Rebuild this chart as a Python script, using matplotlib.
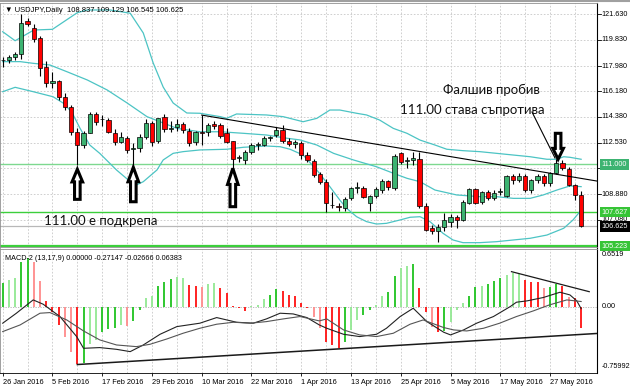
import matplotlib
matplotlib.use('Agg')
import matplotlib.pyplot as plt
import matplotlib.transforms as mtransforms
from matplotlib.patches import Polygon

plt.rcParams['font.family'] = ['Liberation Sans', 'DejaVu Sans']

# ---- data ----
date_labels = ['26 Jan 2016', '5 Feb 2016', '17 Feb 2016', '29 Feb 2016', '10 Mar 2016',
               '22 Mar 2016', '1 Apr 2016', '13 Apr 2016', '25 Apr 2016', '5 May 2016',
               '17 May 2016', '27 May 2016']

opens = [118.38, 118.42, 118.62, 118.80, 121.15, 120.65, 119.95, 117.90, 116.80, 116.90,
         115.80, 115.10, 113.30, 112.35, 113.25, 114.55, 114.20, 114.15, 113.25, 112.62,
         112.90, 112.10, 112.15, 112.97, 113.96, 112.66, 114.35, 113.55, 113.65, 113.90,
         113.40, 112.60, 113.30, 113.30, 113.90, 113.80, 113.21, 112.68, 111.46, 111.30,
         111.90, 112.40, 112.40, 112.85, 113.10, 113.45, 112.68, 112.45, 112.55, 111.67,
         111.27, 110.30, 109.78, 108.10, 108.05, 107.90, 108.60, 109.30, 109.30, 108.25,
         108.77, 109.19, 109.83, 109.30, 111.80, 111.25, 111.30, 111.37, 108.06, 106.48,
         106.30, 106.60, 106.95, 107.30, 107.10, 108.30, 109.24, 108.36, 109.07, 108.60,
         109.05, 108.80, 110.15, 109.90, 110.19, 109.19, 109.90, 110.20, 109.67, 110.38,
         111.13, 110.66, 109.55, 108.837]
highs = [118.60, 118.75, 119.00, 121.69, 121.40, 120.95, 120.10, 118.30, 117.55, 117.00,
         116.05, 115.20, 113.60, 113.35, 114.75, 114.75, 114.50, 114.30, 113.50, 113.30,
         113.05, 112.50, 113.15, 114.20, 114.10, 114.30, 114.60, 114.05, 114.20, 114.00,
         113.60, 113.40, 114.50, 113.95, 114.10, 113.95, 113.60, 112.70, 111.70, 112.00,
         112.50, 112.60, 113.00, 113.05, 113.68, 113.80, 112.90, 112.75, 112.65, 111.85,
         111.40, 110.50, 109.95, 109.05, 108.25, 108.70, 109.40, 109.77, 109.50, 108.85,
         109.40, 110.00, 109.90, 111.75, 111.90, 111.55, 111.85, 111.88, 108.30, 106.70,
         106.75, 107.54, 107.50, 107.45, 108.45, 109.30, 109.30, 109.10, 109.20, 109.20,
         109.35, 110.25, 110.35, 110.40, 110.30, 110.00, 110.30, 110.30, 110.45, 111.40,
         111.32, 110.85, 109.65, 109.129]
lows = [117.93, 118.20, 118.40, 118.45, 120.80, 119.70, 117.30, 116.50, 116.40, 115.60,
        114.85, 113.10, 110.98, 112.20, 113.20, 113.80, 113.70, 113.20, 112.40, 112.50,
        111.80, 110.98, 111.90, 112.80, 112.30, 112.50, 113.30, 113.30, 113.40, 113.20,
        112.30, 112.40, 112.35, 113.00, 113.50, 112.90, 112.50, 110.70, 111.20, 111.00,
        111.75, 112.00, 112.30, 112.70, 112.95, 112.55, 112.30, 112.20, 111.40, 111.15,
        110.10, 109.60, 107.65, 107.95, 107.72, 107.70, 108.50, 109.00, 108.60, 107.69,
        108.60, 109.00, 109.20, 109.20, 111.00, 110.73, 110.95, 107.90, 106.30, 106.10,
        105.53, 106.30, 106.60, 106.48, 107.00, 108.20, 108.20, 108.20, 108.45, 108.50,
        108.85, 108.70, 109.65, 109.75, 109.05, 109.00, 109.70, 109.45, 109.50, 110.30,
        110.60, 109.45, 108.48, 106.545]
closes = [118.42, 118.62, 118.85, 121.05, 120.95, 119.90, 117.85, 116.75, 116.95, 115.80,
          115.05, 113.30, 112.35, 113.20, 114.55, 114.00, 114.25, 113.28, 112.62, 112.97,
          112.00, 112.15, 112.97, 113.92, 112.60, 114.30, 113.50, 113.60, 113.90, 113.45,
          112.50, 113.30, 113.25, 113.80, 113.70, 113.05, 112.62, 111.37, 111.55, 111.90,
          112.40, 112.45, 112.85, 112.95, 113.45, 112.70, 112.45, 112.60, 111.67, 111.30,
          110.25, 109.78, 108.25, 108.13, 108.00, 108.55, 109.30, 109.40, 108.70, 108.77,
          109.27, 109.83, 109.42, 111.60, 111.20, 111.30, 111.45, 108.06, 106.36, 106.31,
          106.55, 107.07, 107.30, 107.10, 108.36, 109.24, 108.30, 109.07, 108.60, 109.00,
          109.10, 110.20, 109.90, 110.20, 109.19, 109.90, 110.20, 109.70, 110.38, 111.13,
          110.73, 109.55, 108.84, 106.625]

# Bollinger bands read at sample bars
bb_up_idx = [0, 2, 5, 8, 12, 13.6, 17.3, 20.5, 22.6, 24.2, 25.8, 27.4, 29.6, 31.7, 35, 36,
             37.6, 42.4, 45.1, 48.3, 50.5, 52.6, 54.2, 56.9, 58.5, 60.6, 62.8, 65, 67.1, 69.5,
             71.4, 74, 76.7, 79.4, 82.1, 84.8, 87.5, 89.1, 90.2, 91.2, 93]
bb_up = [120.41, 119.77, 120.53, 120.58, 121.76, 121.95, 121.95, 121.72, 120.32, 118.19,
         116.49, 115.36, 114.65, 114.63, 114.39, 114.27, 114.58, 114.51, 114.39, 114.03,
         114.27, 114.86, 114.86, 114.63, 114.51, 114.15, 113.56, 113.21, 112.73, 112.38,
         112.08, 111.98, 111.91, 111.79, 111.67, 111.55, 111.37, 111.37, 111.55, 111.51, 111.37]
bb_mid_idx = [0, 2.8, 4.9, 7.6, 10.3, 13.6, 16.8, 20, 23.2, 25.3, 28, 31.7, 35, 38.7, 42.4,
              45.7, 47.8, 50.5, 53.2, 56.4, 60.1, 62.8, 65, 67.1, 69.5, 73, 76.7, 79.4,
              82.1, 84.8, 86.9, 89.1, 91.2, 93]
bb_mid = [118.29, 118.29, 118.17, 118.05, 117.58, 116.99, 116.28, 115.36, 114.39, 114.03,
          113.56, 113.32, 113.32, 113.21, 113.09, 112.86, 112.74, 112.38, 111.79, 111.32,
          110.84, 110.38, 110.02, 109.78, 109.19, 108.84, 108.72, 108.72, 108.60, 108.60,
          108.84, 109.19, 109.48, 109.43]
bb_low_idx = [0, 2, 4.9, 8.1, 9.7, 11.1, 12.4, 14, 15.6, 18.3, 20.2, 21.5, 22.6, 24.8, 25.8,
              27.4, 29, 31.7, 36, 38.7, 42.4, 44.6, 46.2, 48.3, 50.5, 52.6, 54.2, 55.3, 56.9,
              58.5, 60.1, 61.7, 63.9, 65.5, 67.1, 68.7, 70.8, 72.4, 74, 76.7, 79.4, 82.1,
              84.8, 87.5, 90.2, 91.7, 93]
bb_low = [116.16, 116.47, 116.16, 115.80, 115.36, 114.72, 113.59, 112.38, 111.79, 110.61,
          109.90, 109.55, 109.78, 110.61, 111.32, 111.79, 111.91, 112.03, 112.08, 112.22,
          112.31, 112.26, 112.08, 111.67, 110.61, 109.43, 108.48, 107.89, 107.30, 106.95,
          106.78, 106.83, 107.07, 107.26, 107.30, 106.95, 106.12, 105.65, 105.46, 105.46,
          105.53, 105.65, 105.77, 106.00, 106.48, 107.07, 107.77]

# MACD-2 histogram and its colour per bar (g, lg, r, lr)
macd_hist = [0.295, 0.337, 0.358, 0.560, 0.611, 0.569, 0.324, 0.072, -0.063, -0.232,
             -0.379, -0.577, -0.729, -0.716, -0.476, -0.421, -0.324, -0.282, -0.265, -0.232,
             -0.240, -0.181, -0.042, 0.114, 0.139, 0.265, 0.308, 0.350, 0.379, 0.358,
             0.274, 0.265, 0.253, 0.282, 0.295, 0.240, 0.169, 0.013, -0.013, -0.051,
             0.004, 0.021, 0.097, 0.147, 0.223, 0.198, 0.147, 0.139, 0.042, -0.013,
             -0.126, -0.274, -0.442, -0.485, -0.527, -0.442, -0.295, -0.169, -0.105, -0.042,
             0.021, 0.139, 0.190, 0.392, 0.485, 0.518, 0.535, 0.240, -0.063, -0.253,
             -0.324, -0.308, -0.198, -0.042, 0.042, 0.139, 0.253, 0.265, 0.282, 0.324,
             0.358, 0.400, 0.421, 0.409, 0.337, 0.308, 0.316, 0.240, 0.253, 0.282,
             0.265, 0.126, 0.105, -0.27147]
hist_col = ['g', 'lg', 'lg', 'g', 'g', 'lr', 'lr', 'r', 'r', 'r',
            'lr', 'lr', 'r', 'g', 'lg', 'lg', 'g', 'g', 'g', 'lg',
            'lr', 'g', 'g', 'lg', 'lg', 'g', 'g', 'g', 'lg', 'lg',
            'r', 'r', 'lr', 'lg', 'lg', 'r', 'r', 'r', 'r', 'r',
            'lg', 'lg', 'lg', 'g', 'g', 'r', 'r', 'r', 'r', 'r',
            'lr', 'lr', 'r', 'r', 'r', 'g', 'lg', 'lg', 'g', 'g',
            'lg', 'lg', 'g', 'g', 'lg', 'lg', 'g', 'r', 'r', 'lr',
            'r', 'g', 'lg', 'lg', 'lg', 'g', 'g', 'lg', 'g', 'g',
            'g', 'lg', 'lg', 'lg', 'r', 'r', 'r', 'lr', 'g', 'g',
            'r', 'lr', 'r', 'r']

macd_idx = [0, 2.2, 4.9, 6.5, 9.2, 11.9, 13, 15.6, 18.3, 20.5, 22.6, 25.3, 28, 31.7, 34.4,
            37.6, 40.3, 42.4, 44.6, 46.7, 48.9, 50.9, 52.1, 54.8, 57.4, 60.1, 61.7, 63.9,
            66, 68.2, 70.9, 72, 74.1, 76.2, 78.9, 81.6, 82.6, 84.3, 86.9, 89.6, 91.2, 92.3, 93]
macd_line = [-0.21, -0.084, 0.084, 0.03, -0.126, -0.38, -0.527, -0.518, -0.54, -0.569,
             -0.485, -0.35, -0.253, -0.21, -0.139, -0.198, -0.21, -0.156, -0.084, -0.093,
             -0.139, -0.232, -0.274, -0.35, -0.379, -0.35, -0.274, -0.126, -0.021, -0.19,
             -0.324, -0.358, -0.295, -0.21, -0.126, 0.0, 0.055, 0.072, 0.114, 0.181, 0.147,
             0.072, -0.02666]
sig_idx = [0, 2.8, 6, 7.6, 10.3, 13, 15.6, 18.3, 21.5, 23.7, 26.4, 29, 31.7, 34.4, 37.1,
           39.8, 42.4, 45.1, 47.8, 50.9, 52.1, 54.8, 57.4, 60.1, 62.8, 65.5, 67.6, 70.9,
           72.5, 74.6, 77.3, 79.9, 82.6, 85.3, 87.9, 90.7, 93]
sig_line = [-0.316, -0.232, -0.084, -0.076, -0.169, -0.308, -0.421, -0.485, -0.506, -0.476,
            -0.409, -0.337, -0.274, -0.223, -0.198, -0.21, -0.19, -0.156, -0.126, -0.181,
            -0.156, -0.295, -0.358, -0.379, -0.337, -0.223, -0.169, -0.265, -0.295, -0.308,
            -0.274, -0.21, -0.126, -0.055, 0.021, 0.084, 0.06383]

price_ticks = [121.630, 119.830, 117.980, 116.180, 114.380, 112.530, 110.730, 108.880, 107.080]
hlines = [111.000, 107.627, 105.223]
last_price = 106.625

# drawn objects (bar index, price / value); arrows are (bar, tip, tail)
trend_price = ([32, 95.5], [114.5, 109.83])
pointer_line = ([85.1, 88.8], [114.72, 111.46])
up_arrows = [(12, 110.66, 108.53), (21, 110.80, 108.36), (37, 110.73, 108.01)]
down_arrow = (89.3, 111.37, 113.21)
macd_trend_low = ([12, 95.5], [-0.732, -0.340])
macd_trend_high = ([81.8, 94.3], [0.441, 0.188])

n = len(closes)
idx = list(range(n))

fig = plt.figure(figsize=(6.3, 3.88), dpi=100)
ax = fig.add_axes([0, 1 - 247.5 / 388, 597 / 630, 244.5 / 388])
ax2 = fig.add_axes([0, 1 - 373 / 388, 597 / 630, 124 / 388])

grid_kw = dict(color='#c8c8c8', lw=0.6, ls=(0, (2, 2)), zorder=0)
for a in (ax, ax2):
    for i in range(0, 96, 4):
        a.axvline(i, **grid_kw)
for p in price_ticks:
    ax.axhline(p, **grid_kw)

# horizontal lines
ax.axhline(hlines[0], color='#7dd88f', lw=1.0, zorder=1)
ax.axhline(hlines[1], color='#3ccf3c', lw=1.0, zorder=1)
ax.axhline(hlines[2], color='#3ccf3c', lw=1.6, zorder=1)
ax.axhline(last_price, color='#b8b8b8', lw=0.9, zorder=1)

# bollinger
bb_col = '#4cc4c4'
ax.plot(bb_up_idx, bb_up, color=bb_col, lw=0.9, zorder=2)
ax.plot(bb_mid_idx, bb_mid, color=bb_col, lw=0.9, zorder=2)
ax.plot(bb_low_idx, bb_low, color=bb_col, lw=0.9, zorder=2)

# candles
ax.vlines(idx, lows, highs, color='black', lw=0.8, zorder=3)
for i in idx:
    o, c = opens[i], closes[i]
    col = '#3cb371' if c >= o else '#ff0000'
    h = max(abs(c - o), 0.03)
    ax.bar(i, h, bottom=min(o, c), width=0.68, color=col, edgecolor='black', lw=0.5, zorder=4)

# trend lines
ax.plot(*trend_price, color='black', lw=0.8, zorder=5)
ax.plot(*pointer_line, color='black', lw=0.8, zorder=5)


def arrow_poly(x, y_tip, y_end, hw=0.85, sw=0.45, head=0.42):
    y_base = y_tip + (y_end - y_tip) * head
    return [(x, y_tip), (x + hw, y_base), (x + sw, y_base), (x + sw, y_end),
            (x - sw, y_end), (x - sw, y_base), (x - hw, y_base)]


for x, yt, ye in up_arrows + [down_arrow]:
    ax.add_patch(Polygon(arrow_poly(x, yt, ye), closed=True, fc='white', ec='black',
                         lw=2.2, joinstyle='miter', zorder=6))

# texts
big = dict(fontsize=9.5, family=['Lato', 'DejaVu Sans'], color='#111111', zorder=7)
ax.text(70.8, 116.28, 'Фалшив пробив', ha='left', va='center', **big)
ax.text(63.9, 114.86, '111.00 става съпротива', ha='left', va='center', **big)
ax.text(6.6, 106.96, '111.00 е подкрепа', ha='left', va='center', **big)
ax.text(0.008, 0.985, '\u25bc USDJPY,Daily  108.837 109.129 106.545 106.625',
        transform=ax.transAxes, fontsize=5.5, va='top', ha='left')

ax.set_xlim(-0.434, 95.55)
ax.set_ylim(105.117, 122.445)
ax2.set_xlim(-0.434, 95.55)
ax2.set_ylim(-0.839, 0.727)

# MACD
cmap = {'g': '#1fc31f', 'lg': '#92e892', 'r': '#ff1010', 'lr': '#ff8a8a'}
ax2.axhline(0, color='#b0b0b0', lw=0.6, ls=(0, (1.5, 1.5)), zorder=1)
ax2.vlines(idx, 0, macd_hist, colors=[cmap[c] for c in hist_col], lw=1.3, zorder=2)
ax2.plot(macd_idx, macd_line, color='#222222', lw=0.8, zorder=3)
ax2.plot(sig_idx, sig_line, color='#555555', lw=0.8, zorder=3)
ax2.plot(*macd_trend_low, color='#1a1a1a', lw=1.1, zorder=4)
ax2.plot(*macd_trend_high, color='#1a1a1a', lw=0.9, zorder=4)
ax2.text(0.008, 0.95, 'MACD-2 (13,17,9) 0.00000 -0.27147 -0.02666 0.06383',
         transform=ax2.transAxes, fontsize=5.2, va='top', ha='left')

# axes styling
for a in (ax, ax2):
    a.set_facecolor('white')
    for s in ('left', 'top', 'bottom'):
        a.spines[s].set_color('#909090')
        a.spines[s].set_linewidth(0.6)
    a.spines['right'].set_color('black')
    a.spines['right'].set_linewidth(0.8)
    a.set_yticks([])
ax.set_xticks([])
ax2.spines['bottom'].set_color('black')
ax2.set_xticks(range(0, 89, 8))
ax2.set_xticklabels(date_labels, fontsize=5.3, ha='left')
ax2.tick_params(axis='x', length=2.5, width=0.6, pad=1.5)

# right hand price scale
tr = mtransforms.blended_transform_factory(ax.transAxes, ax.transData)
for p in price_ticks:
    ax.plot([1.0, 1.006], [p, p], transform=tr, color='black', lw=0.6, clip_on=False)
    ax.text(1.008, p, f'{p:.3f}', transform=tr, fontsize=5.2, va='center', ha='left')
box_specs = [(hlines[0], '#3cb371'), (hlines[1], '#36c436'), (hlines[2], '#36c436'),
             (last_price, 'black')]
for p, fc in box_specs:
    ax.text(1.008, p, f'{p:.3f}', transform=tr, fontsize=5.2, va='center', ha='left',
            color='white', bbox=dict(boxstyle='square,pad=0.25', fc=fc, ec='none'),
            clip_on=False, zorder=8)

tr2 = mtransforms.blended_transform_factory(ax2.transAxes, ax2.transData)
for v, s in [(0.6519, '0.6519'), (0.0, '0.00'), (-0.75992, '-0.75992')]:
    ax2.text(1.008, v, s, transform=tr2, fontsize=5.2, va='center', ha='left')

fig.add_artist(plt.Line2D([0, 1], [0.997, 0.997], color='#a0a0a0', lw=1.5))
fig.savefig('out.png', dpi=100, facecolor='white')
